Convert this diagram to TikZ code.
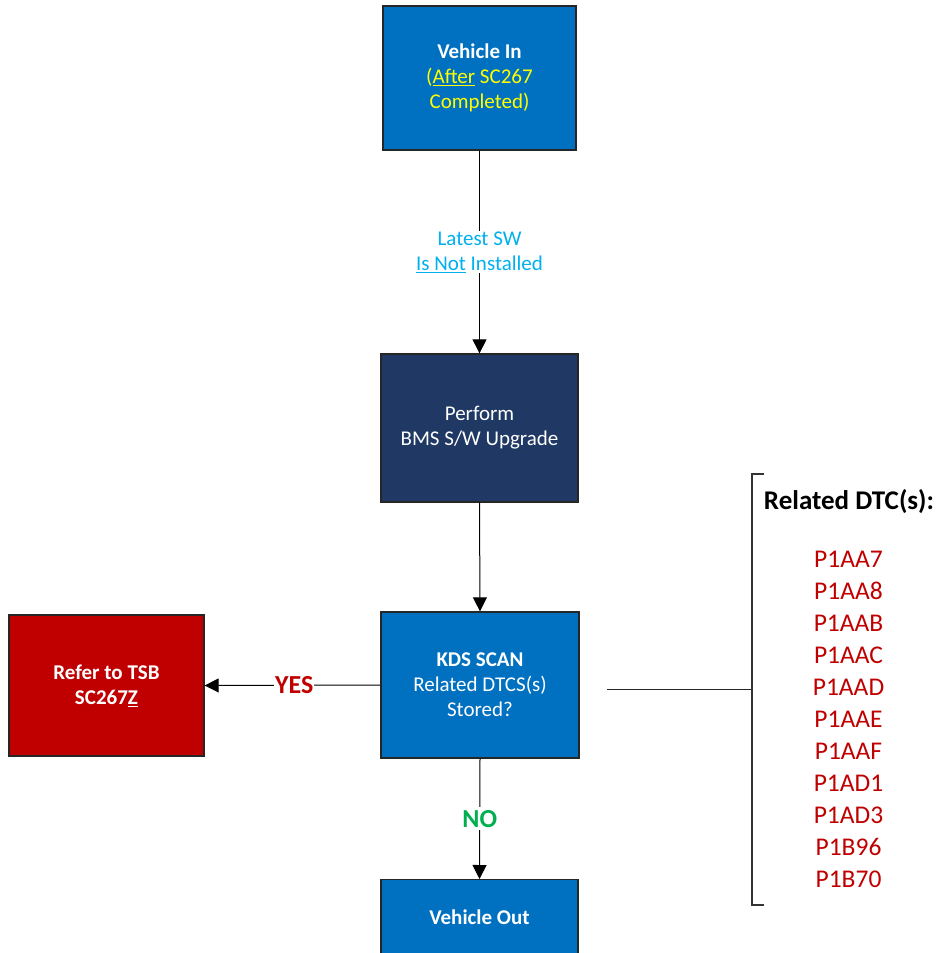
\documentclass[tikz,border=0pt]{standalone}
\usepackage{fontspec}
\setmainfont{Carlito}
\usetikzlibrary{arrows.meta}
\definecolor{boxblue}{HTML}{0070C0}
\definecolor{navy}{HTML}{203864}
\definecolor{darkred}{HTML}{C00000}
\definecolor{lblue}{HTML}{00B0F0}
\definecolor{ygreen}{HTML}{00B050}
\definecolor{yel}{HTML}{FFFF00}
\tikzset{
  box/.style={rectangle, draw=black!85, line width=1.3pt, text=white, align=center,
    font=\fontsize{21}{25}\selectfont, inner sep=0pt},
  conn/.style={line width=1pt, -{Triangle[length=14pt,width=14pt]}},
  lbl/.style={fill=white, inner sep=1pt, align=center},
}
\begin{document}
\begin{tikzpicture}[x=1pt,y=-1pt]
\useasboundingbox (0,0) rectangle (938,953);
\clip (0,0) rectangle (938,953);
\node[box, fill=boxblue, minimum width=193pt, minimum height=144pt] (vin) at (479.5,78)
  {\textbf{Vehicle In}\\\color{yel}(\underline{After} SC267\\\color{yel}Completed)};
\node[box, fill=navy, minimum width=197pt, minimum height=148pt] (bms) at (479.5,428)
  {Perform\\BMS S/W Upgrade};
\node[box, fill=boxblue, minimum width=198pt, minimum height=146pt] (kds) at (480,685)
  {\textbf{KDS SCAN}\\Related DTCS(s)\\Stored?};
\node[box, fill=darkred, minimum width=195pt, minimum height=141pt] (tsb) at (106.5,685.5)
  {\textbf{Refer to TSB}\\\textbf{SC267\underline{Z}}};
\node[box, fill=boxblue, minimum width=197pt, minimum height=146pt, anchor=north] (vout) at (479.5,879)
  {};
\node[text=white, font=\fontsize{21}{25}\selectfont\bfseries] (voutt) at (479.5,917) {Vehicle Out};

\draw[conn] (vin.south) -- (bms.north)
  node[lbl, pos=0.5, text=lblue, font=\fontsize{21}{25}\selectfont] (lsw) {Latest SW\\\underline{Is Not} Installed};
\draw[conn] (bms.south) -- (kds.north);
\draw[conn] (kds.west) -- (tsb.east)
  node[lbl, pos=0.49, text=darkred, font=\fontsize{26}{30}\selectfont\bfseries] (yes) {YES};
\draw[conn] (kds.south) -- (vout.north)
  node[lbl, pos=0.5, text=ygreen, font=\fontsize{26}{30}\selectfont\bfseries, inner sep=3pt] (no) {NO};

\coordinate (ls) at (607,689);
\coordinate (bt) at (752,474);
\coordinate (bb) at (752,905);
\coordinate (bm) at (752,689);
\draw[line width=1pt, black!85] (ls) -- (bm);
\draw[line width=1.2pt, black!80] ([xshift=12pt]bt) -- (bt) -- (bb) -- ([xshift=12pt]bb);

\node[font=\fontsize{27}{30}\selectfont\bfseries] (hdr) at (849,502) {Related DTC(s):};
\node[text=darkred, align=center, font=\fontsize{25.5}{32}\selectfont, anchor=north] (codes) at (848.5,548)
  {P1AA7\\P1AA8\\P1AAB\\P1AAC\\P1AAD\\P1AAE\\P1AAF\\P1AD1\\P1AD3\\P1B96\\P1B70};
\end{tikzpicture}
\end{document}
